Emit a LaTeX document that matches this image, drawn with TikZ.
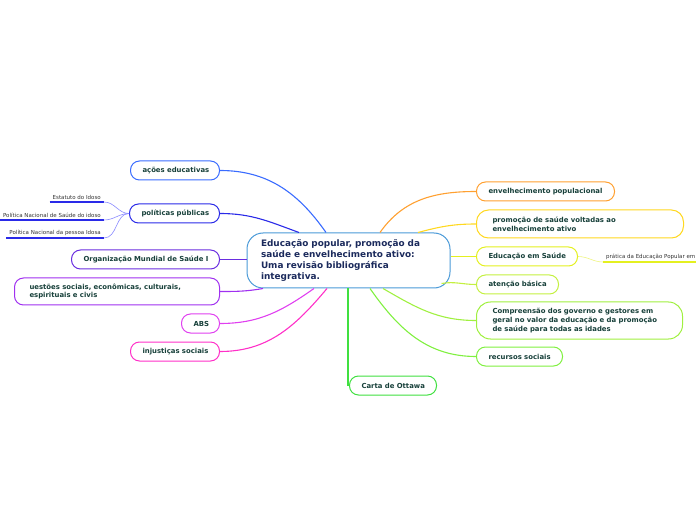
\documentclass[tikz,border=0pt]{standalone}
\usepackage{fontspec}
\setmainfont{DejaVu Sans}
\definecolor{cc}{HTML}{4A9AD8}
\definecolor{ctxt}{HTML}{1B2A5C}
\definecolor{ntxt}{HTML}{17403A}
\definecolor{ltxt}{HTML}{333333}
\definecolor{ca}{HTML}{3A6CFF}
\definecolor{cb}{HTML}{2A2AE8}
\definecolor{cbl}{HTML}{8A8AFF}
\definecolor{cd}{HTML}{6A2EE0}
\definecolor{ce}{HTML}{A030F0}
\definecolor{cf}{HTML}{E040F0}
\definecolor{cg}{HTML}{FF30C8}
\definecolor{ch}{HTML}{FFA030}
\definecolor{ci}{HTML}{FFD820}
\definecolor{cj}{HTML}{E4F020}
\definecolor{cjl}{HTML}{EEF480}
\definecolor{ck}{HTML}{C4F040}
\definecolor{cl}{HTML}{A0F040}
\definecolor{cm}{HTML}{80F040}
\definecolor{cn}{HTML}{40E040}
\tikzset{
  topic/.style={draw=#1, line width=1pt, rounded corners=9pt, fill=white,
    font=\fontsize{6.9}{8.8}\selectfont\bfseries, text=ntxt, align=left,
    inner xsep=12pt, inner ysep=0pt, anchor=west},
  central/.style={draw=cc, line width=1pt, rounded corners=16pt, fill=white,
    font=\fontsize{8.9}{11}\selectfont\bfseries, text=ctxt, align=left,
    inner xsep=14pt, inner ysep=0pt},
  link/.style={draw=#1, line width=1.1pt},
  leaf/.style={font=\fontsize{5.5}{6.5}\selectfont, text=ltxt, inner xsep=3pt, inner ysep=1.8pt},
  leafline/.style={draw=#1, line width=1.8pt},
  thinlink/.style={draw=#1, line width=0.6pt},
}
\begin{document}
\begin{tikzpicture}[x=1pt,y=1pt]
\useasboundingbox (0,0) rectangle (696,520);
% central
\node[central, text width=175pt, minimum width=203pt, minimum height=55pt] (c) at (348.5,259.5)
  {Educação popular, promoção da\\saúde e envelhecimento ativo:\\Uma revisão bibliográfica\\integrativa.};
% left topics
\node[topic=ca, text width=65pt, minimum height=19pt] (n1) at (130,349.5) {\mbox{ações educativas}};
\node[topic=cb, text width=66pt, minimum height=19pt] (n2) at (129,306.5) {\mbox{políticas públicas}};
\node[topic=cd, text width=124pt, minimum height=19pt] (n3) at (71,260.5) {\mbox{Organização Mundial de Saúde I}};
\node[topic=ce, text width=175pt, minimum height=27pt, inner xsep=15pt] (n4) at (14,228.5) {\mbox{uestões sociais, econômicas, culturais,}\\\mbox{espirituais e civis}};
\node[topic=cf, text width=14pt, minimum height=19pt] (n5) at (181,196.5) {\mbox{ABS}};
\node[topic=cg, text width=65pt, minimum height=19pt] (n6) at (130,168.5) {\mbox{injustiças sociais}};
% right topics
\node[topic=ch, text width=114pt, minimum height=19pt] (n7) at (476,328.5) {\mbox{envelhecimento populacional}};
\node[topic=ci, text width=175pt, minimum height=28pt, inner xsep=16pt, rounded corners=12pt] (n8) at (476,296) {\mbox{promoção de saúde voltadas ao}\\\mbox{envelhecimento ativo}};
\node[topic=cj, text width=77pt, minimum height=19pt] (n9) at (476,263.5) {\mbox{Educação em Saúde}};
\node[topic=ck, text width=58pt, minimum height=19pt] (n10) at (476,235.5) {\mbox{atenção básica}};
\node[topic=cl, text width=174pt, minimum height=37pt, inner xsep=16pt, rounded corners=14pt] (n11) at (476,199.5) {\mbox{Compreensão dos governo e gestores em}\\\mbox{geral no valor da educação e da promoção}\\\mbox{de saúde para todas as idades}};
\node[topic=cm, text width=62pt, minimum height=19pt] (n12) at (476,163.5) {\mbox{recursos sociais}};
\node[topic=cn, text width=63pt, minimum height=19pt] (n13) at (349,134.5) {\mbox{Carta de Ottawa}};
% leaves
\node[leaf, anchor=south east] (l1) at (104,318) {Estatuto do Idoso};
\node[leaf, anchor=south east] (l2) at (104,300) {Política Nacional de Saúde do idoso};
\node[leaf, anchor=south east] (l3) at (104,282) {Política Nacional da pessoa Idosa};
\node[leaf, anchor=south west] (l4) at (603,258) {prática da Educação Popular em};
\draw[leafline=cb] (l1.south west) -- (l1.south east);
\draw[leafline=cb] (l2.south west) -- (l2.south east);
\draw[leafline=cb] (l3.south west) -- (l3.south east);
\draw[leafline=cj] (l4.south west) -- (l4.south east);
\draw[thinlink=cbl] (l1.south east) to[out=0,in=180] (n2.west);
\draw[thinlink=cbl] (l2.south east) to[out=0,in=180] (n2.west);
\draw[thinlink=cbl] (l3.south east) to[out=0,in=180] (n2.west);
\draw[thinlink=cjl] (n9.east) to[out=0,in=180] (l4.south west);
% connectors
\draw[link=ca] (n1.east) to[out=0,in=125] ([xshift=-22.5pt]c.north);
\draw[link=cb] (n2.east) to[out=0,in=160] ([xshift=-49.5pt]c.north);
\draw[link=cd] (n3.east) -- ([yshift=1pt]c.west);
\draw[link=ce] (n4.east) to[out=0,in=190] ([xshift=-85.5pt]c.south);
\draw[link=cf] (n5.east) to[out=0,in=215] ([xshift=-34.5pt]c.south);
\draw[link=cg] (n6.east) to[out=0,in=230] ([xshift=-21.5pt]c.south);
\draw[link=ch] (n7.west) to[out=180,in=55] ([xshift=31.5pt]c.north);
\draw[link=ci] (n8.west) to[out=180,in=15] ([xshift=69.5pt]c.north);
\draw[link=cj] (n9.west) -- ([yshift=4pt]c.east);
\draw[link=ck] (n10.west) to[out=180,in=10] ([shift={(-9pt,5pt)}]c.south east);
\draw[link=cl] (n11.west) to[out=180,in=330] ([xshift=34.5pt]c.south);
\draw[link=cm] (n12.west) to[out=180,in=305] ([xshift=21.5pt]c.south);
\draw[link=cn] ([xshift=-0.5pt]c.south) |- (n13.west);
\end{tikzpicture}
\end{document}
